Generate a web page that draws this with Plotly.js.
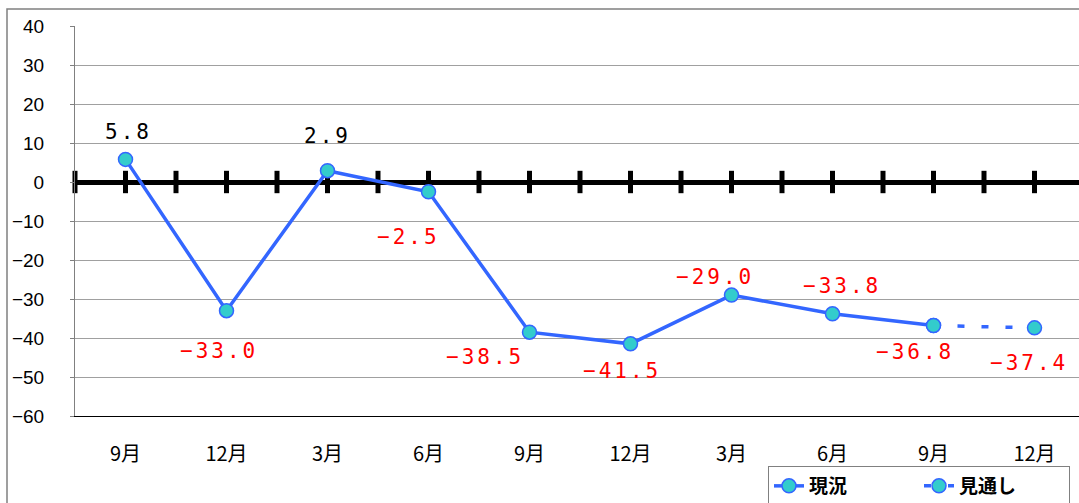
<!DOCTYPE html>
<html>
<head>
<meta charset="utf-8">
<script src="https://cdn.plot.ly/plotly-3.0.1.min.js"></script>
<style>
  html, body { margin: 0; padding: 0; background: #fff; }
  #chart { width: 1079px; height: 503px; }
  .annotation-text { letter-spacing: 3px; }
</style>
</head>
<body>
<div id="chart"></div>
<script>
// quarter labels (x axis)
const QUARTERS = ["9月", "12月", "3月", "6月", "9月", "12月", "3月", "6月", "9月", "12月"];
// 現況 (actual) values, first 9 quarters
const ACTUAL = [5.8, -33.0, 2.9, -2.5, -38.5, -41.5, -29.0, -33.8, -36.8];
// 見通し (outlook) : last actual point + forecast
const OUTLOOK = [-36.8, -37.4];
const OUTLOOK_START = 8;

// label offsets in px from each point [dx, dy]
const LABEL_OFFSETS = [
  [3, -27], [-8, 40], [0, -35], [-20, 45], [-45, 25],
  [-9, 27], [-17, -18], [9, -28], [-19, 26], [-6, 35],
];

const COLORS = {
  line: "#3366ff",
  marker: "#33cccc",
  grid: "#a0a0a0",
  frame: "#808080",
  pos: "#000000",
  neg: "#ff0000",
};

const LABEL_FONT = "DejaVu Sans Mono, monospace";
const JP_FONT = "Noto Sans CJK JP, sans-serif";

const xActual = ACTUAL.map((_, i) => i);
const xOutlook = OUTLOOK.map((_, i) => i + OUTLOOK_START);
const allValues = ACTUAL.concat(OUTLOOK.slice(1));

// tick marks sitting on the zero line, at every half category
const zeroTicksX = [];
for (let k = 0; k <= QUARTERS.length * 2; k++) zeroTicksX.push(k / 2 - 0.5);

const markerStyle = {
  color: COLORS.marker,
  size: 14,
  line: { color: COLORS.line, width: 1.5 },
};

const traces = [
  {
    x: zeroTicksX,
    y: zeroTicksX.map(() => 0),
    type: "scatter",
    mode: "markers",
    marker: { symbol: "line-ns", size: 16, line: { color: "#000", width: 5 } },
    showlegend: false,
    hoverinfo: "skip",
    cliponaxis: false,
  },
  {
    x: xActual,
    y: ACTUAL,
    type: "scatter",
    mode: "lines+markers",
    name: "現況",
    line: { color: COLORS.line, width: 3.5 },
    marker: markerStyle,
    cliponaxis: false,
  },
  {
    x: xOutlook,
    y: OUTLOOK,
    type: "scatter",
    mode: "lines+markers",
    name: "見通し",
    line: { color: COLORS.line, width: 3.5, dash: "7px,17px" },
    marker: markerStyle,
    cliponaxis: false,
  },
];

const annotations = allValues.map((v, i) => ({
  x: i,
  y: v,
  xref: "x",
  yref: "y",
  text: v.toFixed(1).replace("-", "−"),
  showarrow: false,
  xshift: LABEL_OFFSETS[i][0],
  yshift: -LABEL_OFFSETS[i][1],
  font: { family: LABEL_FONT, size: 21, color: v >= 0 ? COLORS.pos : COLORS.neg },
}));

const layout = {
  width: 1079,
  height: 503,
  margin: { t: 26, r: 0, b: 87, l: 75, pad: 0 },
  paper_bgcolor: "#fff",
  plot_bgcolor: "#fff",
  showlegend: true,
  legend: {
    orientation: "h",
    xref: "container",
    yref: "container",
    x: 768 / 1079,
    y: 1 - 466 / 503,
    xanchor: "left",
    yanchor: "top",
    bordercolor: COLORS.frame,
    borderwidth: 1,
    bgcolor: "#fff",
    font: { family: JP_FONT, size: 19, color: "#000", weight: "bold" },
    entrywidth: 105,
    itemwidth: 30,
    tracegroupgap: 0,
  },
  xaxis: {
    range: [-0.5, -0.5 + 1004 / 101],
    tickvals: QUARTERS.map((_, i) => i),
    ticktext: QUARTERS,
    ticks: "",
    ticklabelstandoff: 20,
    tickfont: { family: JP_FONT, size: 20, color: "#000" },
    showgrid: false,
    zeroline: false,
    showline: true,
    linecolor: "#000",
    linewidth: 1,
    automargin: false,
    fixedrange: true,
  },
  yaxis: {
    range: [-60, 40],
    dtick: 10,
    ticks: "outside",
    ticklen: 4,
    tickcolor: COLORS.frame,
    ticklabelstandoff: 22,
    tickfont: { family: "Liberation Sans, Arial, sans-serif", size: 19, color: "#000" },
    showgrid: true,
    gridcolor: COLORS.grid,
    gridwidth: 1,
    zeroline: true,
    zerolinecolor: "#000",
    zerolinewidth: 5,
    showline: true,
    linecolor: COLORS.frame,
    linewidth: 1,
    automargin: false,
    fixedrange: true,
  },
  shapes: [
    {
      type: "rect",
      xref: "paper",
      yref: "paper",
      x0: (7 - 75) / 1004,
      x1: 1.02,
      y0: -0.3,
      y1: 1 + (26 - 9) / 390,
      line: { color: COLORS.frame, width: 1.5 },
      layer: "below",
    },
  ],
  annotations,
};

Plotly.newPlot("chart", traces, layout, { displayModeBar: false, staticPlot: true });
</script>
</body>
</html>
